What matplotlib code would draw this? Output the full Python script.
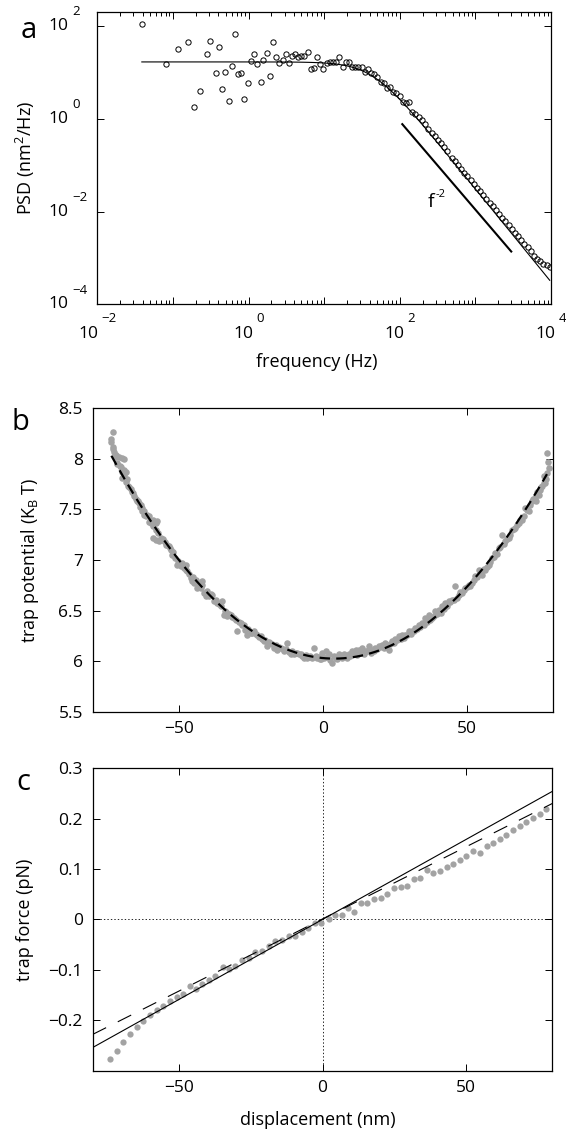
import numpy as np
import matplotlib
matplotlib.use('Agg')
import matplotlib.pyplot as plt
import matplotlib.ticker as mticker

# ---- panel a: power spectrum ----
a_freq = [0.0388, 0.0798, 0.117, 0.156, 0.192, 0.230, 0.279, 0.306, 0.371, 0.407,
          0.451, 0.494, 0.546, 0.599, 0.656, 0.728, 0.798, 0.875, 0.975, 1.07,
          1.17, 1.30, 1.44, 1.56, 1.73, 1.91, 2.09, 2.32, 2.55, 2.82,
          3.09, 3.41, 3.74, 4.10, 4.50, 4.99, 5.46, 6.04, 6.62, 7.33,
          8.13, 8.91, 9.75, 10.8, 11.8, 13.1, 14.4, 15.7, 17.6, 19.3,
          21.3, 23.4, 25.9, 28.4, 31.4, 34.4, 38.1, 41.8, 46.2, 50.7,
          56.1, 61.4, 68.1, 74.5, 82.4, 90.4, 100, 110, 121, 133,
          147, 161, 179, 196, 217, 238, 263, 288, 319, 349,
          387, 424, 484, 530, 587, 643, 711, 780, 863, 946,
          1047, 1148, 1271, 1393, 1542, 1690, 1871, 2051, 2270, 2489,
          2754, 3013, 3342, 3656, 4046, 4436, 4909, 5383, 5957, 6531,
          7228, 7925, 8770, 9616]
a_psd = [110, 15.2, 31.1, 45.3, 1.81, 4.0, 24.6, 46.2, 9.7, 34.8,
         4.4, 9.9, 2.37, 13.4, 65.3, 9.0, 9.6, 2.69, 5.86, 17.4,
         24.6, 14.8, 6.07, 18.6, 25.5, 8.3, 44.6, 21.2, 15.8, 18.0,
         25.0, 15.8, 22.0, 24.3, 20.9, 22.6, 22.0, 27.2, 11.7, 12.3,
         21.2, 15.2, 11.9, 15.5, 16.6, 16.6, 16.6, 21.5, 13.1, 16.3,
         16.3, 12.7, 12.7, 12.7, 12.7, 9.95, 11.7, 9.46, 9.14, 8.0,
         6.07, 5.77, 4.51, 4.88, 3.81, 3.52, 3.13, 2.32, 2.14, 2.25,
         1.42, 1.24, 1.10, 0.938, 0.769, 0.592, 0.500, 0.425, 0.348, 0.305,
         0.250, 0.202, 0.143, 0.120, 0.0986, 0.0828, 0.0682, 0.0573, 0.0471, 0.0395,
         0.0326, 0.0273, 0.0225, 0.0189, 0.0155, 0.0130, 0.0107, 0.00899, 0.00741, 0.00621,
         0.00512, 0.00430, 0.00353, 0.00296, 0.00244, 0.00205, 0.00169, 0.00141, 0.00111, 0.000977,
         0.000857, 0.000762, 0.000703, 0.000656]
a_fit_p0 = 16.6      # Lorentzian plateau (nm^2/Hz)
a_fit_fc = 43.0      # corner frequency (Hz)
a_guide_f = [108, 2980]
a_guide_p = [0.76, 1.38e-3]

# ---- panel b: trap potential ----
b_x = [-72.8, -73.5, -73.1, -73.7, -72.6, -72.0, -70.8, -69.7, -69.1, -71.4,
       -70.2, -69.1, -68.5, -69.7, -68.5, -67.9, -66.2, -65.6, -64.5, -63.9,
       -63.3, -62.7, -62.1, -61.0, -60.4, -59.2, -58.1, -57.5, -59.2, -58.1,
       -57.0, -55.8, -54.6, -53.5, -52.9, -52.3, -50.6, -49.4, -48.3, -47.7,
       -47.1, -45.9, -45.4, -44.8, -43.6, -42.5, -41.9, -41.3, -40.7, -39.6,
       -38.4, -37.9, -36.7, -35.5, -35.0, -34.4, -33.2, -32.0, -30.9, -29.7,
       -28.6, -27.4, -26.3, -25.1, -23.9, -22.8, -21.6, -20.5, -19.3, -18.2,
       -17.0, -15.8, -14.7, -13.5, -12.4, -11.2, -10.0, -8.9, -7.7, -6.6,
       -5.4, -4.3, -3.1, -2.0, -1.0,
       -73.0, -72.2, -71.6, -70.5, -69.9, -69.0, -68.2, -67.4, -66.8, -65.9,
       -65.0, -64.2, -63.5, -62.8, -62.0, -61.3, -60.6, -59.8, -58.9, -58.0,
       -57.2, -56.4, -55.5, -54.9, -54.0, -53.1, -52.0, -51.3, -50.2, -49.0,
       -48.0, -47.4, -46.5, -45.0, -44.2, -43.0, -42.0, -40.2, -39.0, -37.2,
       -36.2, -34.0, -33.6, -32.6, -31.5, -30.3, -29.2, -28.0, -27.0, -26.0,
       -24.6, -23.4, -22.2, -21.0, -20.0, -18.8, -17.6, -16.4, -15.2, -14.0,
       -12.9, -11.8, -10.6, -9.4, -8.3, -7.2, -6.0, -4.8, -3.6, -2.5,
       -1.5, -0.6,
       -0.2, 0.94, 2.09, 3.25, 4.41, 5.57, 6.73, 7.88, 9.04, 10.2,
       11.35, 12.5, 13.67, 14.83, 15.98, 17.14, 18.3, 19.45, 20.6, 21.77,
       22.93, 24.1, 25.24, 26.4, 27.56, 28.72, 29.87, 31.03, 32.19, 33.34,
       34.5, 35.66, 36.82, 37.97, 39.13, 40.29, 41.45, 42.6, 43.76, 44.92,
       46.08, 47.23, 48.39, 49.55, 50.7, 51.86, 53.02, 54.18, 55.34, 56.49,
       57.65, 58.8, 59.97, 61.12, 62.28, 63.44, 64.6, 65.75, 66.9, 68.07,
       69.23, 70.38, 71.54, 72.7, 73.85, 75.0, 76.17, 77.33, 77.9, 78.5,
       78.0, 78.2,
       0.4, 1.5, 2.6, 3.8, 5.0, 6.2, 7.3, 8.5, 9.6, 10.8,
       11.9, 13.1, 14.3, 15.4, 16.6, 17.7, 18.9, 20.0, 21.2, 22.4,
       23.5, 24.7, 25.8, 27.0, 28.1, 29.3, 30.5, 31.6, 32.8, 33.9,
       35.1, 36.2, 37.4, 38.6, 39.7, 40.9, 42.0, 43.2, 44.3, 45.5,
       46.7, 47.8, 49.0, 50.1, 51.3, 52.4, 53.6, 54.7, 55.9, 57.0,
       58.2, 59.4, 60.5, 61.7, 62.8, 64.0, 65.1, 66.3, 67.5, 68.6,
       69.8, 70.9, 72.1, 73.2, 74.4, 75.5, 76.7, 77.5, 76.0, 74.0, 77.0]
b_u = [8.269, 8.197, 8.121, 8.164, 8.072, 8.039, 8.023, 8.006, 8.000, 7.957,
       7.924, 7.891, 7.875, 7.809, 7.776, 7.727, 7.677, 7.628, 7.579, 7.562,
       7.546, 7.480, 7.447, 7.447, 7.431, 7.398, 7.365, 7.381, 7.217, 7.200,
       7.184, 7.200, 7.151, 7.135, 7.102, 7.053, 6.954, 6.937, 6.921, 6.954,
       6.888, 6.822, 6.789, 6.773, 6.724, 6.724, 6.789, 6.674, 6.641, 6.641,
       6.658, 6.592, 6.576, 6.543, 6.592, 6.460, 6.444, 6.460, 6.428, 6.296,
       6.378, 6.362, 6.263, 6.279, 6.296, 6.263, 6.247, 6.197, 6.148, 6.181,
       6.132, 6.115, 6.132, 6.099, 6.181, 6.066, 6.066, 6.083, 6.066, 6.033,
       6.033, 6.050, 6.132, 6.033, 6.017,
       8.10, 8.02, 7.95, 7.93, 7.87, 7.84, 7.80, 7.72, 7.70, 7.66,
       7.60, 7.58, 7.52, 7.51, 7.48, 7.44, 7.38, 7.37, 7.34, 7.30,
       7.27, 7.22, 7.21, 7.18, 7.15, 7.12, 7.08, 7.02, 6.99, 6.97,
       6.93, 6.90, 6.86, 6.83, 6.80, 6.76, 6.75, 6.69, 6.66, 6.60,
       6.56, 6.50, 6.49, 6.47, 6.44, 6.41, 6.39, 6.36, 6.31, 6.32,
       6.28, 6.27, 6.24, 6.22, 6.21, 6.19, 6.17, 6.16, 6.14, 6.12,
       6.12, 6.09, 6.10, 6.08, 6.07, 6.05, 6.06, 6.04, 6.03, 6.05,
       6.04, 6.02,
       6.083, 6.099, 6.066, 5.984, 6.033, 6.066, 6.033, 6.050, 6.066, 6.099,
       6.115, 6.115, 6.132, 6.099, 6.148, 6.115, 6.132, 6.148, 6.164, 6.181,
       6.115, 6.197, 6.214, 6.247, 6.263, 6.263, 6.296, 6.296, 6.329, 6.362,
       6.378, 6.428, 6.460, 6.428, 6.493, 6.510, 6.543, 6.576, 6.592, 6.608,
       6.740, 6.658, 6.674, 6.724, 6.757, 6.773, 6.839, 6.904, 6.855, 6.904,
       6.954, 7.020, 7.069, 7.118, 7.250, 7.184, 7.217, 7.299, 7.316, 7.365,
       7.398, 7.513, 7.480, 7.579, 7.612, 7.645, 7.727, 7.760, 7.858, 7.908,
       8.056, 7.973,
       6.03, 6.04, 6.01, 6.05, 6.02, 6.04, 6.07, 6.03, 6.05, 6.07,
       6.06, 6.08, 6.07, 6.10, 6.08, 6.10, 6.12, 6.14, 6.13, 6.15,
       6.17, 6.18, 6.21, 6.22, 6.23, 6.26, 6.27, 6.30, 6.32, 6.34,
       6.36, 6.39, 6.41, 6.45, 6.47, 6.48, 6.52, 6.55, 6.58, 6.60,
       6.62, 6.68, 6.70, 6.73, 6.74, 6.80, 6.83, 6.87, 6.91, 6.93,
       6.98, 7.03, 7.06, 7.13, 7.16, 7.21, 7.25, 7.31, 7.35, 7.40,
       7.44, 7.49, 7.54, 7.60, 7.67, 7.69, 7.76, 7.80, 7.72, 7.58, 7.83]
b_fit_u0 = 6.025     # harmonic fit: U = u0 + k (x - x0)^2
b_fit_x0 = 4.0
b_fit_k = 3.34e-4
b_fit_range = [-73.5, 77.9]

# ---- panel c: trap force ----
c_x = [-73.9, -71.6, -69.3, -67.0, -64.7, -62.5, -60.1, -57.7, -55.4, -53.1,
       -50.8, -48.6, -46.3, -44.1, -41.8, -39.4, -37.3, -34.8, -32.6, -30.3,
       -28.0, -25.7, -23.4, -21.0, -18.75, -16.4, -14.2, -11.7, -9.6, -7.3,
       -5.0, -2.6, -0.35, 2.1, 4.4, 6.7, 9.0, 11.1, 13.3, 15.6,
       18.0, 20.3, 22.6, 24.9, 27.2, 29.5, 31.8, 33.9, 36.4, 38.5,
       40.9, 43.2, 45.5, 47.8, 50.1, 52.4, 54.8, 57.1, 59.4, 61.7,
       64.0, 66.3, 68.6, 71.0, 73.3, 75.6, 77.9]
c_f = [-0.2775, -0.260, -0.243, -0.228, -0.214, -0.202, -0.190, -0.180, -0.171, -0.162,
       -0.154, -0.147, -0.132, -0.138, -0.128, -0.120, -0.113, -0.095, -0.099, -0.093,
       -0.080, -0.077, -0.064, -0.063, -0.052, -0.042, -0.041, -0.032, -0.032, -0.024,
       -0.016, -0.008, -0.007, 0.000, 0.0085, 0.0085, 0.023, 0.015, 0.032, 0.032,
       0.041, 0.042, 0.051, 0.062, 0.064, 0.067, 0.080, 0.083, 0.099, 0.092,
       0.097, 0.104, 0.110, 0.117, 0.125, 0.135, 0.131, 0.145, 0.152, 0.160,
       0.168, 0.1775, 0.185, 0.194, 0.202, 0.210, 0.220]
c_line_x = [-80, 80]
c_solid_f = [-0.254, 0.254]
c_dash_f = [-0.228, 0.230]

GREY = '#a3a3a3'
FONT = ['Open Sans', 'DejaVu Sans']
plt.rcParams['font.family'] = FONT
plt.rcParams['mathtext.fontset'] = 'custom'
plt.rcParams['mathtext.rm'] = 'Open Sans'
plt.rcParams['mathtext.it'] = 'Open Sans'
plt.rcParams['lines.scale_dashes'] = False
plt.rcParams['axes.linewidth'] = 0.9

W, H = 566, 1131
fig = plt.figure(figsize=(W / 100, H / 100), dpi=100)


def box(l, t, r, b):
    return [l / W, 1 - b / H, (r - l) / W, (b - t) / H]


def style(ax):
    ax.tick_params(which='both', direction='in', top=True, right=True,
                   width=0.7, labelsize=12.5, pad=7)
    ax.tick_params(which='major', length=5)
    ax.tick_params(which='minor', length=3)


# ---------- a ----------
ax = fig.add_axes(box(97.3, 11.7, 551, 304.5))
fa = np.array(a_freq)
ax.plot(fa, a_fit_p0 * a_fit_fc**2 / (a_fit_fc**2 + fa**2), color='k', lw=0.8)
ax.plot(a_freq, a_psd, 'o', mfc='none', mec='k', ms=3.8, mew=0.7)
ax.plot(a_guide_f, a_guide_p, color='k', lw=1.5)
ax.set_xscale('log')
ax.set_yscale('log')
ax.set_xlim(1e-2, 1e4)
ax.set_ylim(1e-4, 200)
ax.xaxis.set_major_locator(mticker.LogLocator(base=10, numticks=20))
ax.xaxis.set_minor_locator(mticker.LogLocator(base=10, subs=np.arange(2, 10), numticks=20))
ax.set_yticks([1e-4, 1e-2, 1, 1e2])
ax.yaxis.set_minor_locator(mticker.NullLocator())
style(ax)
ax.tick_params(labelbottom=False, labelleft=False)
ax.text(233, 0.0126, 'f', fontsize=14, ha='left', va='baseline')
ax.text(300, 0.0232, '-2', fontsize=8, ha='left', va='center')

rend = fig.canvas.get_renderer()


def pow_label(ax, val, exp, axis):
    if axis == 'x':
        base = ax.annotate('10', xy=(val, 0), xycoords=('data', 'axes fraction'),
                           xytext=(0, -29.5), textcoords='offset pixels',
                           ha='right', va='center', fontsize=12.5)
        sup = ax.annotate(exp, xy=(val, 0), xycoords=('data', 'axes fraction'),
                          xytext=(0, -14.5), textcoords='offset pixels',
                          ha='left', va='center', fontsize=9.5)
        w10 = base.get_window_extent(rend).width
        we = sup.get_window_extent(rend).width
        gap = 3
        dx = (w10 - gap - we) / 2
        base.xyann = (dx, -29.5)
        sup.xyann = (dx + gap, -14.5)
    else:
        ax.annotate('10', xy=(0, val), xycoords=('axes fraction', 'data'),
                    xytext=(-28.8, 0), textcoords='offset pixels',
                    ha='right', va='center', fontsize=12.5)
        ax.annotate(exp, xy=(0, val), xycoords=('axes fraction', 'data'),
                    xytext=(-25.3, 14), textcoords='offset pixels',
                    ha='left', va='center', fontsize=9.5)


for v, e in [(1e-2, '\u22122'), (1, '0'), (1e2, '2'), (1e4, '4')]:
    pow_label(ax, v, e, 'x')
for v, e in [(1e-4, '\u22124'), (1e-2, '\u22122'), (1, '0'), (1e2, '2')]:
    pow_label(ax, v, e, 'y')

fig.text(317 / W, 1 - 362 / H, 'frequency (Hz)', fontsize=13, ha='center', va='center')
fig.text(25 / W, 1 - 158 / H, 'PSD (nm$^2$/Hz)', fontsize=13, rotation=90,
         ha='center', va='center')

# ---------- b ----------
ax = fig.add_axes(box(92.7, 408.3, 553, 711.7))
ax.plot(b_x, b_u, 'o', color=GREY, ms=4.7, mew=0, zorder=2)
xb = np.linspace(b_fit_range[0], b_fit_range[1], 200)
ax.plot(xb, b_fit_u0 + b_fit_k * (xb - b_fit_x0)**2, color='k', lw=1.6,
        dashes=(7.5, 4.5), zorder=3)
ax.set_xlim(-80, 80)
ax.set_ylim(5.5, 8.5)
ax.set_xticks([-50, 0, 50])
ax.set_yticks([5.5, 6, 6.5, 7, 7.5, 8, 8.5])
ax.set_yticklabels(['5.5', '6', '6.5', '7', '7.5', '8', '8.5'])
style(ax)
fig.text(30 / W, 1 - 560 / H, 'trap potential (K$_\\mathregular{B}$ T)', fontsize=13,
         rotation=90, ha='center', va='center')

# ---------- c ----------
ax = fig.add_axes(box(92.7, 768.2, 552.3, 1070.7))
ax.axhline(0, color='k', lw=0.6, ls=(0, (1, 1.5)), zorder=1)
ax.axvline(0, color='k', lw=0.6, ls=(0, (1, 1.5)), zorder=1)
ax.plot(c_x, c_f, 'o', color=GREY, ms=4.5, mew=0, zorder=2)
ax.plot(c_line_x, c_solid_f, color='k', lw=0.8, zorder=3)
ax.plot(c_line_x, c_dash_f, color='k', lw=0.8, dashes=(10.8, 9.4), zorder=3)
ax.set_xlim(-80, 80)
ax.set_ylim(-0.3, 0.3)
ax.set_xticks([-50, 0, 50])
ax.set_yticks([-0.2, -0.1, 0, 0.1, 0.2, 0.3])
ax.set_yticklabels(['\u22120.2', '\u22120.1', '0', '0.1', '0.2', '0.3'])
style(ax)
fig.text(25 / W, 1 - 919.5 / H, 'trap force (pN)', fontsize=13, rotation=90,
         ha='center', va='center')
fig.text(318 / W, 1 - 1120 / H, 'displacement (nm)', fontsize=13, ha='center', va='center')

# panel letters
fig.text(29 / W, 1 - 31 / H, 'a', fontsize=21, ha='center', va='center')
fig.text(20 / W, 1 - 423 / H, 'b', fontsize=21, ha='center', va='center')
fig.text(23.5 / W, 1 - 783 / H, 'c', fontsize=21, ha='center', va='center')

fig.savefig('out.png', dpi=100)
